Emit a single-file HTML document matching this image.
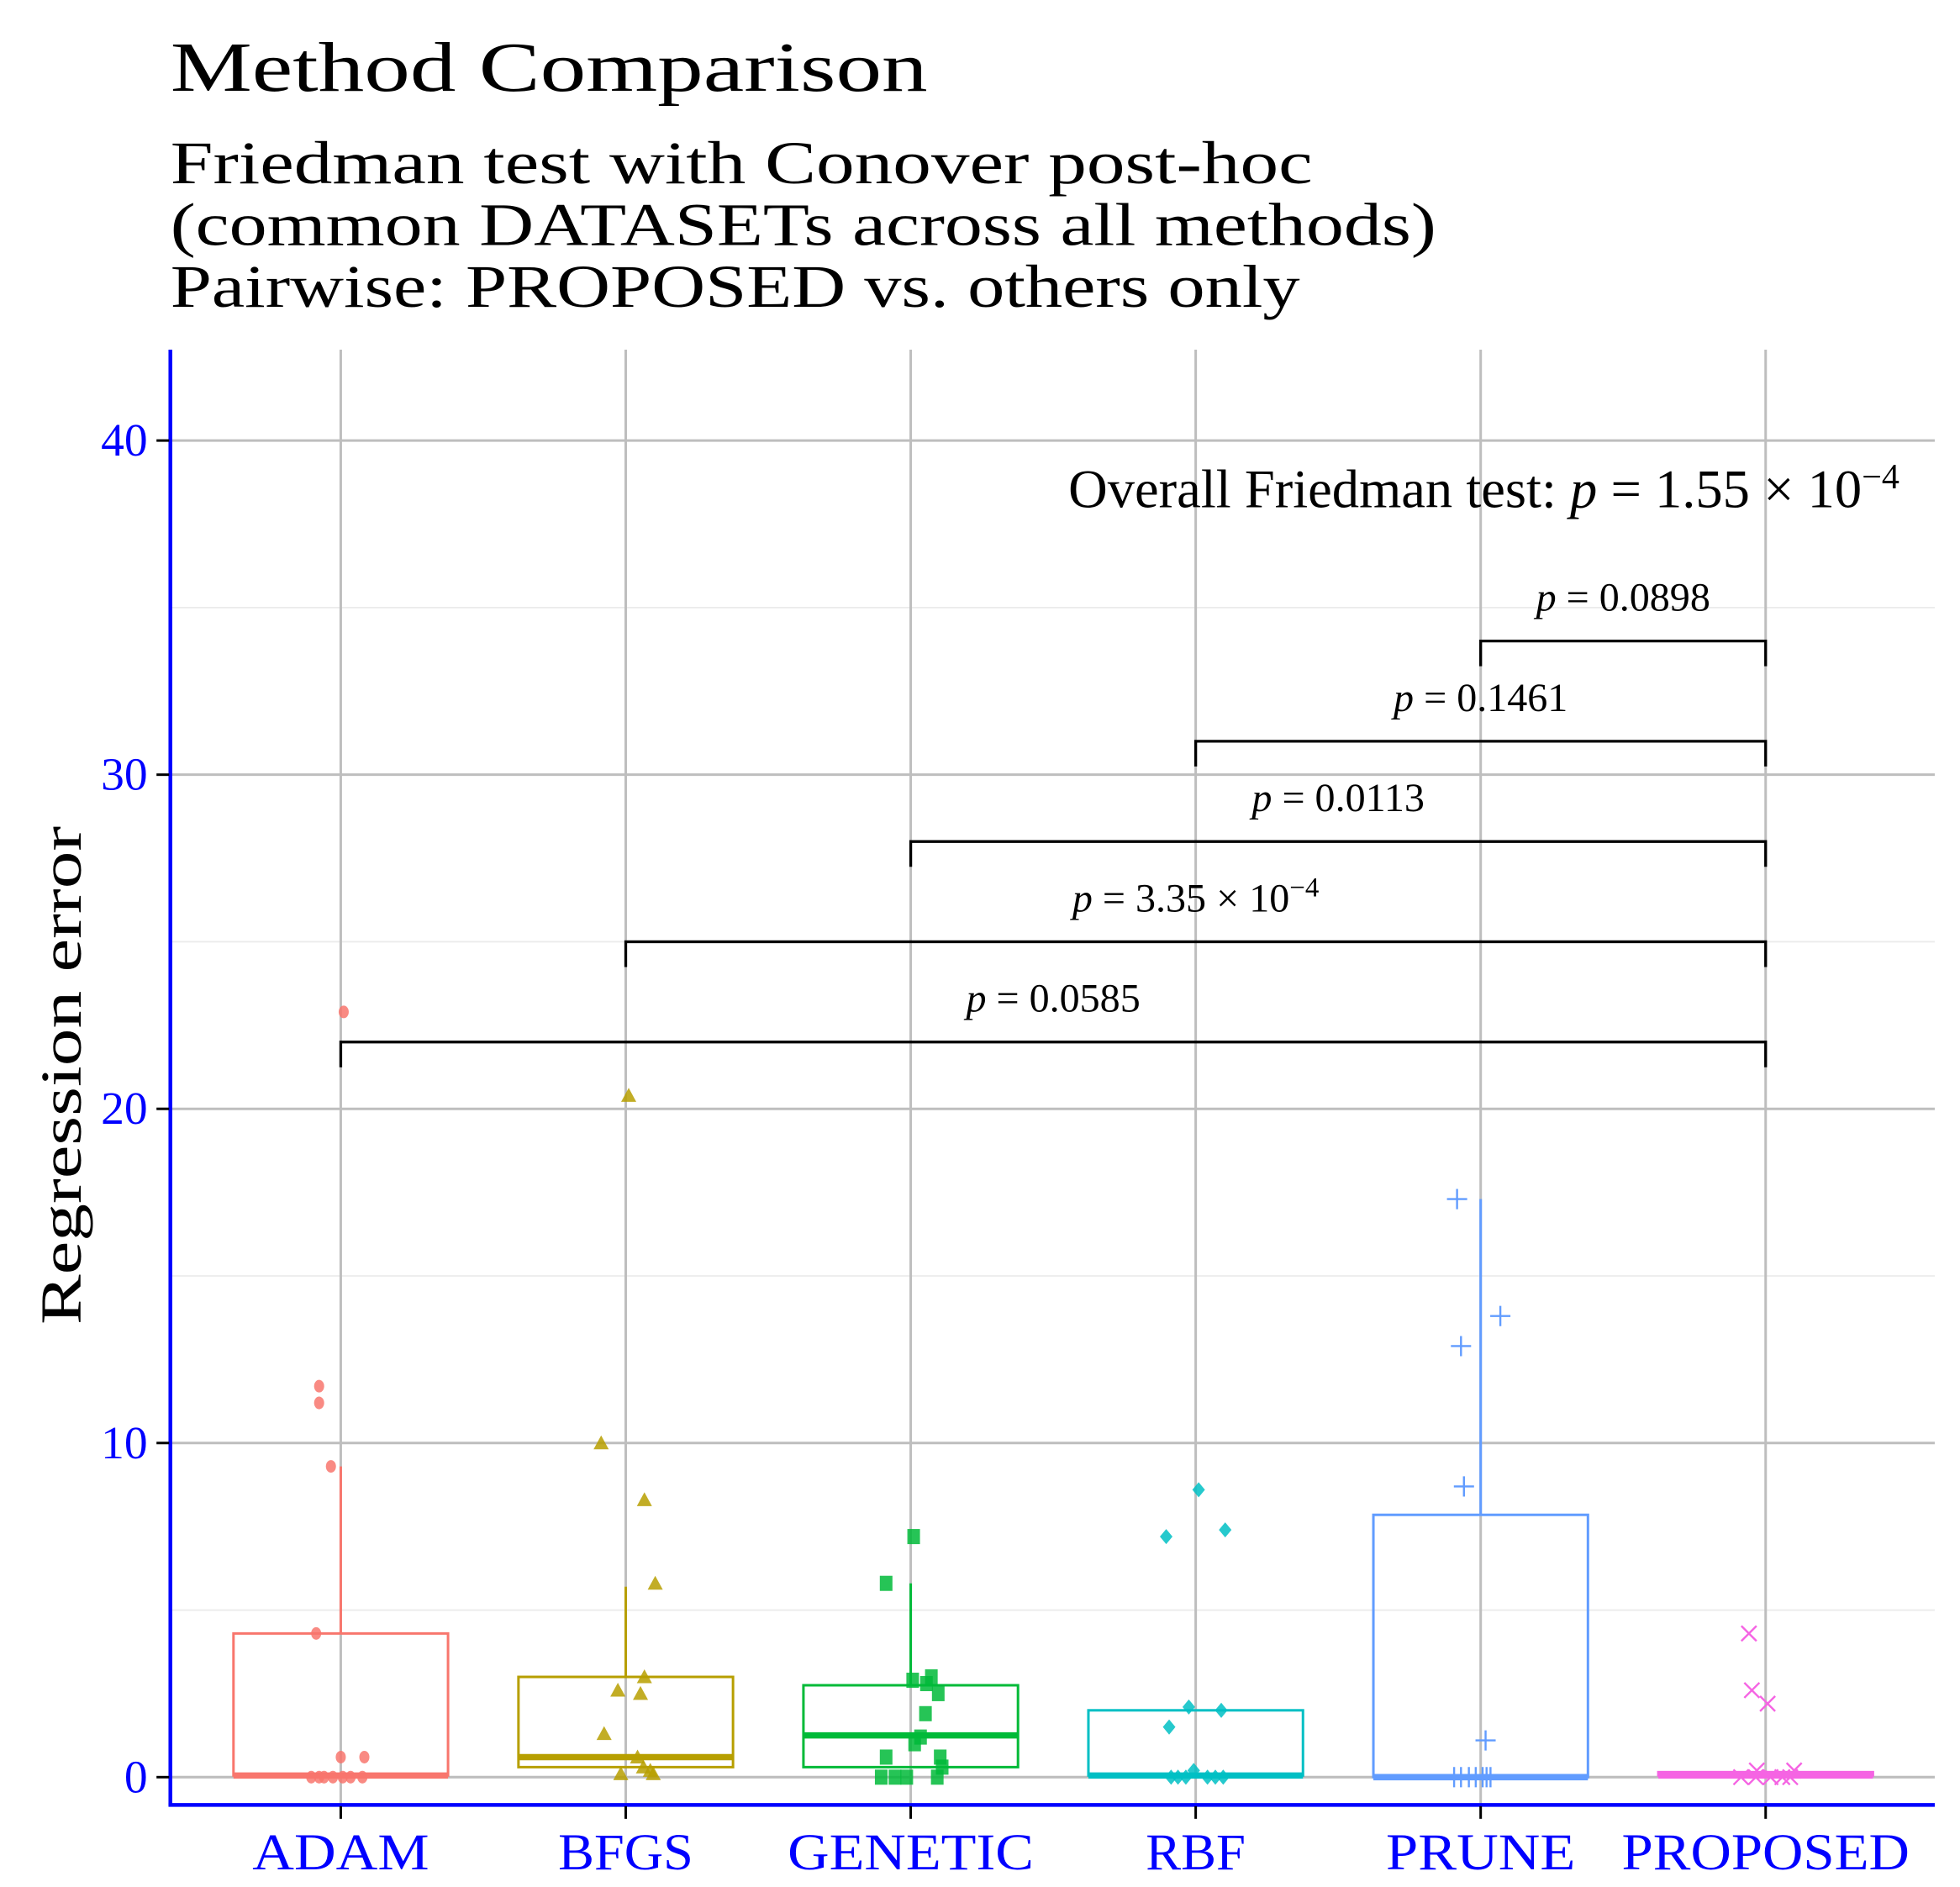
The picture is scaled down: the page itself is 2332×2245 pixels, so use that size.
<!DOCTYPE html>
<html><head><meta charset="utf-8"><style>html,body{margin:0;padding:0;background:#fff}svg{display:block}text{font-family:"Liberation Serif",serif}</style></head>
<body>
<svg id="chart" xmlns="http://www.w3.org/2000/svg" width="2332" height="2245" viewBox="0 0 1553 1495">
<rect width="1553" height="1495" fill="#fff"/>
<text x="135" y="72" font-size="56" textLength="600" lengthAdjust="spacingAndGlyphs">Method Comparison</text>
<text x="135" y="145" font-size="48" textLength="905" lengthAdjust="spacingAndGlyphs">Friedman test with Conover post-hoc</text>
<text x="135" y="194" font-size="48" textLength="1003" lengthAdjust="spacingAndGlyphs">(common DATASETs across all methods)</text>
<text x="135" y="243" font-size="48" textLength="895" lengthAdjust="spacingAndGlyphs">Pairwise: PROPOSED vs. others only</text>
<g id="grid"></g><g id="marks"></g><g id="ann"></g><g id="axes"></g>
<text transform="translate(64,852) rotate(-90)" text-anchor="middle" font-size="46" textLength="395" lengthAdjust="spacingAndGlyphs">Regression error</text>
</svg>
<script>
const categories=["ADAM","BFGS","GENETIC","RBF","PRUNE","PROPOSED"];
const colors=["#F8766D","#B79F00","#00BA38","#00BFC4","#619CFF","#F564E3"];
const q1=[0.05,0.3,0.3,0.05,0,0.05];
const medians=[0.05,0.6,1.25,0.05,0,0.05];
const q3=[4.3,3.0,2.75,2.0,7.85,0.15];
const whiskerHigh=[9.3,5.7,5.8,2.0,17.3,0.2];
const pointsADAM=[22.9,11.7,11.2,9.3,4.3,0.6,0.6,0,0,0,0,0,0,0];
const pointsBFGS=[20.4,10.0,8.3,5.8,3.0,2.6,2.5,1.3,0.6,0.3,0.2,0.1,0.1];
const pointsGENETIC=[7.2,5.8,3.0,2.9,2.8,2.5,1.9,1.2,1.0,0.6,0.6,0.3,0,0,0,0];
const pointsRBF=[8.6,7.4,7.2,2.1,2.0,1.5,0.2,0,0,0,0,0,0];
const pointsPRUNE=[17.3,13.8,12.9,8.7,1.1,0,0,0,0,0,0,0];
const pointsPROPOSED=[4.3,2.6,2.2,0.2,0.2,0,0,0,0,0];
const jitterADAM=[0.03,-0.22,-0.22,-0.1,-0.25,0,0.24,-0.3,-0.22,-0.17,-0.08,0.02,0.1,0.22];
const jitterBFGS=[0.03,-0.25,0.19,0.3,0.19,-0.08,0.15,-0.22,0.12,0.18,0.25,-0.05,0.28];
const jitterGENETIC=[0.03,-0.25,0.21,0.02,0.16,0.28,0.15,0.1,0.04,-0.25,0.3,0.32,-0.3,-0.16,-0.04,0.27];
const jitterRBF=[0.03,0.3,-0.3,-0.07,0.26,-0.27,-0.02,-0.25,-0.18,-0.1,0.12,0.2,0.28];
const jitterPRUNE=[-0.24,0.2,-0.2,-0.17,0.05,-0.27,-0.2,-0.12,-0.05,0.02,0.06,0.1];
const jitterPROPOSED=[-0.17,-0.14,0.02,-0.09,0.29,-0.25,-0.1,0.05,0.17,0.25];
const allPoints=[pointsADAM,pointsBFGS,pointsGENETIC,pointsRBF,pointsPRUNE,pointsPROPOSED];
const allJitter=[jitterADAM,jitterBFGS,jitterGENETIC,jitterRBF,jitterPRUNE,jitterPROPOSED];
const yTicks=[0,10,20,30,40];
const yMinor=[5,15,25,35];
const bracketFrom=[0,1,2,3,4];
const bracketY=[22,25,28,31,34];
const pLabels=["0.0585","3.35|-4","0.0113","0.1461","0.0898"];
const xLabelWidths=[140,107,195,79,150,228];

const NS="http://www.w3.org/2000/svg";
const y=v=>1408-v*26.475;
const x=i=>270+i*225.8;
const BW=85;
function mk(parent,tag,attrs){const e=document.createElementNS(NS,tag);for(const k in attrs)e.setAttribute(k,attrs[k]);document.getElementById(parent).appendChild(e);return e;}
yMinor.forEach(v=>{const e=mk('grid','line',{x1:135,x2:1533,y1:y(v),y2:y(v),stroke:'#ebebeb','stroke-width':1.2});

});
yTicks.forEach(v=>{const e=mk('grid','line',{x1:135,x2:1533,y1:y(v),y2:y(v),stroke:'#bebebe','stroke-width':2});

});
categories.forEach((c,i)=>{const e=mk('grid','line',{x1:x(i),x2:x(i),y1:277,y2:1430,stroke:'#bebebe','stroke-width':2});

});
categories.forEach((c,i)=>{const col=colors[i];
const w=mk('marks','line',{x1:x(i),x2:x(i),y1:y(q3[i]),y2:y(whiskerHigh[i]),stroke:col,'stroke-width':2});


const b=mk('marks','rect',{x:x(i)-BW,y:y(q3[i]),width:2*BW,height:Math.max(1,y(q1[i])-y(q3[i])),fill:'none',stroke:col,'stroke-width':2});


const m=mk('marks','line',{x1:x(i)-BW,x2:x(i)+BW,y1:y(medians[i]),y2:y(medians[i]),stroke:col,'stroke-width':5});


allPoints[i].forEach((v,j)=>{const px=x(i)+allJitter[i][j]*BW*0.55/0.3*0.5,py=y(v);let e;
if(i==0)e=mk('marks','ellipse',{cx:px,cy:py,rx:4,ry:5,fill:col,opacity:0.85});
else if(i==1)e=mk('marks','polygon',{points:`${px},${py-6} ${px-6},${py+5} ${px+6},${py+5}`,fill:col,opacity:0.85});
else if(i==2)e=mk('marks','rect',{x:px-5,y:py-6,width:10,height:12,fill:col,opacity:0.85});
else if(i==3)e=mk('marks','polygon',{points:`${px},${py-6} ${px+5},${py} ${px},${py+6} ${px-5},${py}`,fill:col,opacity:0.85});
else if(i==4)e=mk('marks','path',{d:`M${px-8},${py}H${px+8}M${px},${py-8}V${py+8}`,stroke:col,'stroke-width':1.6,fill:'none'});
else e=mk('marks','path',{d:`M${px-6},${py-6}L${px+6},${py+6}M${px-6},${py+6}L${px+6},${py-6}`,stroke:col,'stroke-width':1.6,fill:'none'});

});});
bracketFrom.forEach((f,k)=>{const yy=y(bracketY[k]),x1=x(f),x2=x(5);
const p=mk('ann','path',{d:`M${x1},${yy+20}V${yy}H${x2}V${yy+20}`,stroke:'#000','stroke-width':2.2,fill:'none'});


const t=mk('ann','text',{x:(x1+x2)/2,y:yy-24,'text-anchor':'middle','font-size':32});


const parts=pLabels[k].split('|');
t.innerHTML='<tspan font-style="italic">p</tspan> = '+parts[0]+(parts[1]?' × 10<tspan dy="-12" font-size="22">−4</tspan>':'');});
{const t=mk('ann','text',{x:1505,y:402,'text-anchor':'end','font-size':43});


t.innerHTML='Overall Friedman test: <tspan font-style="italic">p</tspan> = 1.55 × 10<tspan dy="-15" font-size="28">−4</tspan>';}
{const a=mk('axes','line',{x1:135,x2:135,y1:277,y2:1430,stroke:'#0000ff','stroke-width':3});


const b=mk('axes','line',{x1:133.5,x2:1533,y1:1430,y2:1430,stroke:'#0000ff','stroke-width':3});

}
yTicks.forEach(v=>{const tk=mk('axes','line',{x1:124,x2:134,y1:y(v),y2:y(v),stroke:'#000','stroke-width':2});


const t=mk('axes','text',{x:117,y:y(v)+12,'text-anchor':'end','font-size':37,fill:'#0000ff'});


t.textContent=v;});
categories.forEach((c,i)=>{const tk=mk('axes','line',{x1:x(i),x2:x(i),y1:1431,y2:1441,stroke:'#000','stroke-width':2});


const t=mk('axes','text',{x:x(i)-xLabelWidths[i]/2,y:1481,'font-size':41,fill:'#0000ff',textLength:xLabelWidths[i],lengthAdjust:'spacingAndGlyphs'});


t.textContent=c;});
</script>
</body></html>
